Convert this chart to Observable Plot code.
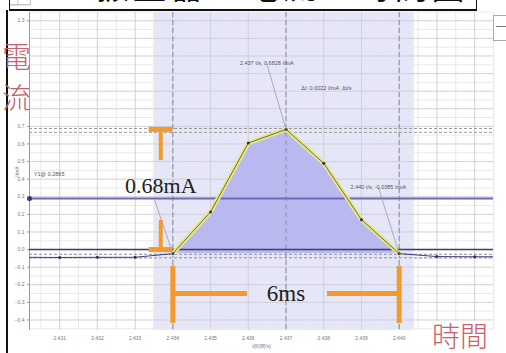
<!DOCTYPE html>
<html><head><meta charset="utf-8">
<script src="https://cdn.jsdelivr.net/npm/d3@7"></script>
<script src="https://cdn.jsdelivr.net/npm/@observablehq/plot@0.6"></script>
<style>
body{margin:0;background:#fff;}
#wrap{position:relative;width:506px;height:353px;overflow:hidden;}
#wrap svg{position:absolute;left:0;top:0;}
.red{position:absolute;color:#c9606a;background:#fff;font-family:"Noto Sans CJK TC","Noto Sans CJK SC",sans-serif;font-weight:300;line-height:1;}
.ln{position:absolute;background:#111;}
#title{position:absolute;left:96px;top:-31px;font-family:"Noto Sans CJK TC",sans-serif;font-size:33px;line-height:33px;letter-spacing:4px;color:#111;white-space:nowrap;}
</style></head><body><div id="wrap"></div>
<script>
// ---- data ----
const times   = [2.430, 2.431, 2.432, 2.433, 2.434, 2.435, 2.436, 2.437, 2.438, 2.439, 2.440, 2.441, 2.442, 2.443];
const current = [-0.044, -0.045, -0.044, -0.044, -0.023, 0.214, 0.605, 0.683, 0.490, 0.170, -0.023, -0.040, -0.041, -0.041];
const xTicks = [2.431, 2.432, 2.433, 2.434, 2.435, 2.436, 2.437, 2.438, 2.439, 2.440, 2.441, 2.442];
const xTickLabels = [2.431, 2.432, 2.433, 2.434, 2.435, 2.436, 2.437, 2.438, 2.439, 2.440];
const yTicks = [-0.4, -0.3, -0.2, -0.1, 0.0, 0.1, 0.2, 0.3, 0.4, 0.5, 0.6, 0.7, 0.8, 0.9, 1.0, 1.1, 1.2, 1.3];
const yTickLabels = [-0.4, -0.3, -0.2, -0.1, 0.0, 0.1, 0.2, 0.3, 0.4, 0.5, 0.6, 0.7, 1.3];
const xDomain = [2.4302, 2.4425];
const yDomain = [-0.46, 1.347];
const selection = [{x1: 2.4335, x2: 2.4404}];
const cursorTimes = [2.434, 2.437, 2.440];
const pulseStart = 2.434, pulsePeakT = 2.437, pulseEnd = 2.440;
const peakLevels = [0.688, 0.666];
const baseLevels = [-0.027, -0.047];
const zeroLevel = [0.0];
const y1Level = [0.29];
const ampLabel = "0.68mA", durLabel = "6ms";
const ampTop = 0.683, ampBottom = 0.0, ampStemTop = 0.505, ampStemBottom = 0.165, ampX = 2.43368, ampBarX1 = 2.43337;
const durY = -0.25, durBarTop = -0.095, durBarBottom = -0.42, durGapL = 2.43598, durGapR = 2.4381;
const notes = [
  {tx: 2.43649, ty: 1.057, ax: 2.437, ay: 0.683, text: "2.437 t/s, 0.6828 I/mA", link: true},
  {tx: 2.43807, ty: 0.915, ax: 2.43807, ay: 0.915, text: "ΔI: 0.0022 I/mA  Δt/s", link: false},
  {tx: 2.43945, ty: 0.352, ax: 2.440, ay: -0.023, text: "2.440 t/s, -0.0385 I/mA", link: true},
  {tx: 2.43072, ty: 0.426, ax: 2.43072, ay: 0.426, text: "Y1@ 0.2865", link: false}
];
const ampNote = [{x1: 2.434, y1: -0.023, x2: 2.43352, y2: 0.28}];

// ---- build tables ----
const series = times.map((t, i) => ({t, i: current[i]}));
const pulse = series.filter(d => d.t >= pulseStart - 1e-6 && d.t <= pulseEnd + 1e-6);
const minorX = xTicks.map(v => v - 0.0005).concat([xTicks[xTicks.length - 1] + 0.0005]);
const minorY = yTicks.map(v => v - 0.05).concat([yTicks[yTicks.length - 1] + 0.05]);
const orange = "#f29b2c";

const chart = Plot.plot({
  width: 506, height: 353,
  marginLeft: 29, marginRight: 13, marginTop: 12, marginBottom: 23,
  x: {domain: xDomain},
  y: {domain: yDomain},
  style: {background: "transparent", fontFamily: "Liberation Sans, sans-serif"},
  marks: [
    Plot.rect(selection, {x1: "x1", x2: "x2", fill: "#e6e6f9"}),
    Plot.ruleX(minorX, {stroke: "#e9e9ee", strokeWidth: 1}),
    Plot.ruleY(minorY, {stroke: "#e9e9ee", strokeWidth: 1}),
    Plot.ruleX(xTicks, {stroke: "#d0d0d6", strokeWidth: 1}),
    Plot.ruleY(yTicks, {stroke: "#d0d0d6", strokeWidth: 1}),
    Plot.areaY(pulse, {x: "t", y1: -0.023, y2: "i", fill: "#b9b9f0"}),
    Plot.ruleX(cursorTimes, {stroke: "#8a8aa2", strokeDasharray: "5,3", strokeWidth: 1}),
    Plot.ruleX([xDomain[0]], {stroke: "#9a9a9a", strokeWidth: 1}),
    Plot.ruleY(zeroLevel, {stroke: "#3c3c6a", strokeWidth: 1.5}),
    Plot.ruleY(y1Level, {stroke: "#6a6ab6", strokeWidth: 2}),
    Plot.ruleY(peakLevels, {stroke: "#9a9a9a", strokeDasharray: "3,2", strokeWidth: 1}),
    Plot.ruleY(baseLevels, {stroke: "#8c8c9c", strokeDasharray: "3,2", strokeWidth: 1}),
    Plot.line(series, {x: "t", y: "i", stroke: "#3c3c7a", strokeWidth: 1, clip: true}),
    Plot.line(pulse, {x: "t", y: "i", stroke: "#e6e68c", strokeWidth: 4.5, strokeLinejoin: "round"}),
    Plot.line(pulse, {x: "t", y: "i", stroke: "#6e6e3c", strokeWidth: 1}),
    Plot.dot(series, {x: "t", y: "i", r: 1.5, fill: "#303055", clip: true}),
    Plot.dot([{t: xDomain[0], i: y1Level[0]}], {x: "t", y: "i", r: 2.5, fill: "#34348a"}),
    // leader lines
    Plot.link(notes.filter(d => d.link), {x1: "ax", y1: "ay", x2: "tx", y2: "ty", stroke: "#9a9aa6", strokeWidth: 0.8}),
    Plot.link(ampNote, {x1: "x1", y1: "y1", x2: "x2", y2: "y2", stroke: "#9a9aa6", strokeWidth: 0.8}),
    Plot.text(notes, {x: "tx", y: "ty", text: "text", fontSize: 5.5, fill: "#555", className: "ann"}),
    // amplitude marker
    Plot.ruleY([ampTop, ampBottom], {x1: ampBarX1, x2: pulseStart, stroke: orange, strokeWidth: 5}),
    Plot.ruleX([ampX], {y1: ampTop, y2: ampStemTop, stroke: orange, strokeWidth: 4}),
    Plot.ruleX([ampX], {y1: ampStemBottom, y2: ampBottom, stroke: orange, strokeWidth: 4}),
    Plot.text([ampLabel], {x: ampX, y: 0.36, text: d => d, fontSize: 22, fontFamily: "Liberation Serif, serif", fill: "#222"}),
    // duration marker
    Plot.ruleX([pulseStart, pulseEnd], {y1: durBarTop, y2: durBarBottom, stroke: orange, strokeWidth: 5}),
    Plot.ruleY([durY], {x1: pulseStart, x2: durGapL, stroke: orange, strokeWidth: 5}),
    Plot.ruleY([durY], {x1: durGapR, x2: pulseEnd, stroke: orange, strokeWidth: 5}),
    Plot.text([durLabel], {x: pulsePeakT, y: durY, text: d => d, fontSize: 23, fontFamily: "Liberation Serif, serif", fill: "#222"}),
    // axes
    Plot.axisY(yTickLabels, {tickFormat: d3.format(".1f"), fontSize: 5, tickSize: 2, tickPadding: 3, fill: "#777", stroke: "#999", label: "I/mA", labelAnchor: "center", labelOffset: 14, labelArrow: "none"}),
    Plot.axisX(xTickLabels, {tickFormat: d3.format(".3f"), fontSize: 5, tickSize: 0, tickPadding: 6, fill: "#777", label: "t(時間/s)", labelAnchor: "center", labelOffset: 17, labelArrow: "none"})
  ]
});

const wrap = document.getElementById("wrap");
wrap.appendChild(chart);

// boxes behind small annotation labels
chart.querySelectorAll("g.ann text").forEach(t => {
  const b = t.getBBox();
  const r = document.createElementNS("http://www.w3.org/2000/svg", "rect");
  r.setAttribute("x", b.x - 2); r.setAttribute("y", b.y - 1.5);
  r.setAttribute("width", b.width + 4); r.setAttribute("height", b.height + 3);
  r.setAttribute("fill", "#fff"); r.setAttribute("stroke", "#aaa"); r.setAttribute("stroke-width", "0.7");
  t.parentNode.insertBefore(r, t);
});

// frame, title, overlay labels
const add = (cls, css, txt) => { const d = document.createElement("div"); d.className = cls; d.style.cssText = css; if (txt) d.textContent = txt; wrap.appendChild(d); return d; };
add("", "position:absolute;left:493px;top:15px;width:18px;height:24px;border:1px solid #aaa;background:#fff;");
add("", "position:absolute;left:496px;top:26px;width:12px;height:1px;background:#777;");
const title = document.createElement("div"); title.id = "title"; title.textContent = "振盪器 - 電流 - 時間圖"; wrap.appendChild(title);
add("", "position:absolute;left:0;top:0;width:9px;height:10px;background:#fff;");
add("ln", "left:9px;top:9px;width:468px;height:2px;");
add("ln", "left:9px;top:0;width:1px;height:10px;");
add("ln", "left:476px;top:0;width:1px;height:11px;");
add("", "position:absolute;left:477px;top:0;width:29px;height:10px;background:#fff;");
add("ln", "left:6px;top:10px;width:2px;height:343px;");
add("red", "left:2px;top:41px;font-size:29px;background:transparent;", "電");
add("red", "left:2px;top:82px;font-size:29px;background:transparent;", "流");
add("red", "left:432px;top:321px;font-size:28px;", "時間");
</script></body></html>
